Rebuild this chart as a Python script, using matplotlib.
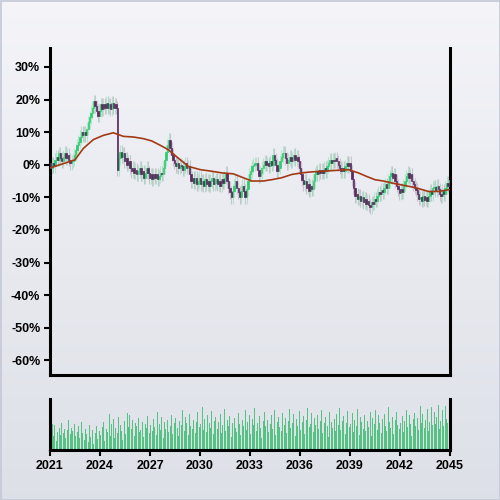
import numpy as np
import matplotlib
matplotlib.use("Agg")
from matplotlib import pyplot as plt
from matplotlib.patches import Rectangle

plt.rcParams['font.family'] = ['Liberation Sans', 'DejaVu Sans']

# monthly closes (%), one row per year 2021..2044
closes = [
    -1.0, 0.5, -0.5, 1.5, 2.5, 1.5, 3.5, 2.0, 1.0, 2.5, 3.7, 2.0,
    3.0, 1.5, 0.5, 1.0, 1.5, 3.0, 4.5, 6.0, 7.0, 8.5, 10.0, 9.0,
    10.0, 9.0, 11.0, 13.0, 14.5, 16.0, 17.5, 19.5, 18.0, 16.5, 15.0, 16.5,
    18.5, 17.0, 18.5, 17.5, 19.0, 17.5, 18.5, 17.0, 19.0, 17.5, 18.5, 17.5,
    -1.5, 2.0, 4.0, 2.5, 3.5, 1.0, 2.0, 0.0, 1.0, -1.0, -2.0, -1.0,
    -2.5, -1.5, -3.0, -2.0, -1.0, -3.0, -2.0, -4.0, -2.5, -1.0, -2.5, -4.0,
    -3.0, -4.5, -3.0, -4.0, -3.0, -4.5, -3.5, -2.5, -3.0, -1.0, 1.5, 4.0,
    6.0, 7.7, 5.0, 3.0, 1.5, 0.6, -0.5, 0.5, -1.0, 0.0, -0.5, -1.5,
    -0.5, 0.5, -1.0, -0.5, -3.0, -5.0, -4.0, -5.5, -4.0, -6.0, -5.0, -4.0,
    -6.0, -5.0, -6.5, -4.5, -6.0, -5.0, -6.5, -5.0, -4.0, -6.0, -5.5, -4.5,
    -6.0, -5.0, -6.5, -4.5, -5.5, -4.0, -2.5, -5.0, -7.0, -8.5, -10.0, -8.0,
    -6.5, -5.0, -7.0, -8.5, -10.0, -8.0, -6.5, -8.0, -10.0, -7.5, -5.0, -3.0,
    -2.0, -0.5, 0.0, 0.5, 0.5, -1.5, -3.6, -2.5, -1.0, 0.0, 1.0, 0.0,
    0.5, -0.5, 1.0, 0.0, 3.0, 1.5, 0.0, -2.0, -1.0, 1.0, 2.5, 3.6,
    3.6, 2.0, 0.5, 1.5, 2.5, 1.0, 2.0, 3.0, 1.5, 2.5, 1.0, -1.0,
    -3.0, -4.6, -6.0, -5.0, -7.0, -6.0, -8.0, -6.5, -7.5, -5.0, -3.0, -2.0,
    -3.0, -1.5, -2.5, -1.5, -2.5, -1.0, -2.0, -0.5, 0.5, 1.5, 0.5, 1.5,
    1.0, 2.0, 1.0, 0.0, -1.0, -2.0, -1.0, -2.0, -0.5, 0.6, -0.5, 0.6,
    -2.0, -4.5, -7.0, -9.7, -9.0, -10.5, -9.5, -11.0, -10.0, -11.5, -10.5, -12.0,
    -11.0, -12.5, -13.0, -11.5, -12.0, -10.5, -11.0, -9.5, -8.5, -9.0, -7.7, -8.5,
    -7.0, -6.0, -7.0, -5.0, -3.5, -2.5, -4.0, -3.0, -5.0, -6.5, -7.5, -8.7,
    -7.5, -8.5, -6.5, -5.0, -3.5, -2.5, -4.0, -3.0, -5.0, -6.0, -7.0, -7.7,
    -9.0, -10.5, -10.0, -11.0, -9.5, -10.8, -10.0, -11.0, -9.5, -8.0, -9.0, -7.0,
    -6.7, -8.0, -6.5, -7.5, -9.0, -9.7, -8.0, -9.0, -7.0, -5.5, -6.5, -4.6,
]
first_open = 0.5
wick = 2.0

volumes = [
    24, 26, 14, 25, 9, 18, 22, 15, 27, 17, 21, 12,
    20, 30, 16, 22, 19, 26, 14, 18, 24, 12, 28, 17,
    10, 21, 16, 8, 25, 13, 20, 6, 17, 24, 11, 19,
    15, 23, 28, 9, 21, 18, 36, 14, 26, 31, 12, 22,
    17, 33, 25, 19, 10, 29, 16, 37, 23, 35, 21, 30,
    14, 27, 24, 32, 18, 20, 28, 13, 26, 22, 34, 17,
    25, 19, 31, 23, 15, 38, 26, 20, 33, 12, 28, 21,
    30, 18, 24, 35, 16, 27, 32, 22, 14, 29, 25, 40,
    19, 33, 27, 15, 36, 24, 21, 30, 17, 28, 38, 23,
    26, 43, 20, 31, 18, 35, 27, 22, 39, 16, 29, 33,
    21, 28, 36, 17, 25, 41, 19, 30, 24, 34, 13, 27,
    32, 22, 18, 37, 26, 15, 30, 24, 40, 20, 28, 35,
    16, 31, 25, 42, 19, 27, 34, 22, 12, 29, 38, 24,
    30, 18, 26, 35, 21, 40, 15, 28, 33, 23, 19, 37,
    25, 32, 17, 29, 41, 22, 27, 36, 14, 31, 24, 39,
    20, 28, 34, 16, 30, 42, 23, 26, 37, 18, 32, 25,
    35, 21, 29, 40, 17, 27, 33, 24, 13, 38, 28, 22,
    31, 19, 36, 25, 42, 20, 29, 34, 16, 27, 39, 23,
    26, 37, 18, 30, 24, 41, 15, 33, 28, 21, 35, 19,
    29, 23, 38, 14, 32, 26, 40, 20, 35, 27, 17, 31,
    36, 24, 19, 43, 28, 22, 33, 16, 30, 38, 25, 21,
    27, 34, 18, 29, 40, 23, 35, 26, 14, 31, 37, 24,
    32, 20, 44, 27, 36, 22, 30, 41, 19, 28, 43, 25,
    38, 26, 33, 45, 21, 29, 40, 24, 44, 31, 27, 36,
]

ma_years = [2021.0, 2021.6, 2022.2, 2022.5, 2023.0, 2023.6, 2024.2, 2024.8, 2025.4,
            2026.0, 2026.6, 2027.1, 2027.6, 2028.1, 2028.7, 2029.3, 2030.0, 2030.7,
            2031.3, 2032.0, 2032.6, 2033.1, 2033.8, 2034.4, 2034.9, 2035.5, 2036.1,
            2036.7, 2037.3, 2038.0, 2038.9, 2039.5, 2040.0, 2040.5, 2041.0, 2041.5,
            2042.2, 2042.9, 2043.7, 2044.3, 2045.0]
ma_values = [-1.0, 0.0, 1.0, 1.5, 5.0, 7.7, 9.0, 9.8, 8.7,
             8.5, 8.0, 7.3, 6.0, 4.6, 2.0, -0.5, -1.5, -2.0,
             -2.5, -2.8, -4.0, -5.0, -5.0, -4.5, -4.0, -3.0, -2.5,
             -2.2, -2.0, -1.8, -1.5, -2.5, -3.6, -4.6, -5.0, -5.6,
             -6.3, -7.0, -8.2, -8.2, -7.6]

y_ticks = [30, 20, 10, 0, -10, -20, -30, -40, -50, -60]
x_ticks = [2021, 2024, 2027, 2030, 2033, 2036, 2039, 2042, 2045]

UP = '#2ecc71'
DOWN = '#5c2a5e'
VOL = '#55c183'

closes = np.array(closes)
opens = np.concatenate([[first_open], closes[:-1]])
n = len(closes)
xs = 2021 + (np.arange(n) + 0.5) / 12
highs = np.maximum(opens, closes) + wick
lows = np.minimum(opens, closes) - wick
up = closes >= opens

fig = plt.figure(figsize=(5, 5), dpi=100)

# background gradient
bg = fig.add_axes([0, 0, 1, 1], zorder=-10)
grad = np.linspace(0, 1, 256).reshape(-1, 1)
top = np.array([0.957, 0.957, 0.975])
bot = np.array([0.865, 0.878, 0.905])
img = top + (bot - top) * grad[:, :, None]
bg.imshow(img, aspect='auto', extent=[0, 1, 0, 1])
bg.add_patch(Rectangle((0.001, 0.001), 0.998, 0.998, fill=False,
                       edgecolor='#c3c8d6', linewidth=1.2))
bg.set_xlim(0, 1)
bg.set_ylim(0, 1)
bg.axis('off')

ax = fig.add_axes([0.1, 0.25, 0.8, 0.654])
ax.set_facecolor('none')

w = 1.0 / 12
ax.vlines(xs[up], lows[up], highs[up], color='#7fdca6', alpha=0.5, lw=0.8, zorder=2)
ax.vlines(xs[~up], lows[~up], highs[~up], color='#a89cb0', alpha=0.5, lw=0.8, zorder=2)
ax.bar(xs[up], (closes - opens)[up], bottom=opens[up], width=w, color=UP,
       edgecolor=UP, linewidth=0.5, zorder=3)
ax.bar(xs[~up], (closes - opens)[~up], bottom=opens[~up], width=w, color=DOWN,
       edgecolor=DOWN, linewidth=0.5, zorder=3)
ax.plot(ma_years, ma_values, color='#a33a16', lw=1.2, zorder=4)

ax.set_xlim(2021, 2045)
ax.set_ylim(-64.5, 35.8)
ax.set_yticks(y_ticks)
ax.set_yticklabels([f'{t}%' for t in y_ticks])
ax.set_xticks([])
ax.spines['top'].set_visible(False)
for s in ['left', 'bottom', 'right']:
    ax.spines[s].set_linewidth(2.2)
    ax.spines[s].set_color('black')
ax.tick_params(axis='y', length=4, width=1.5, labelsize=9, colors='black', pad=3)

vax = fig.add_axes([0.1, 0.1, 0.8, 0.102])
vax.set_facecolor('none')
vax.bar(xs, volumes, width=0.7 / 12, color=VOL, linewidth=0,
        antialiased=False, zorder=2)
vax.set_xlim(2021, 2045)
vax.set_ylim(0, 51)
vax.set_yticks([])
vax.set_xticks(x_ticks)
vax.set_xticklabels([str(t) for t in x_ticks])
vax.spines['top'].set_visible(False)
for s in ['left', 'bottom', 'right']:
    vax.spines[s].set_linewidth(2.2)
    vax.spines[s].set_color('black')
vax.tick_params(axis='x', length=4, width=1.5, labelsize=9, colors='black', pad=3)

for lab in ax.get_yticklabels() + vax.get_xticklabels():
    lab.set_fontweight('bold')

fig.savefig('out.png', dpi=100)
plt.close(fig)
